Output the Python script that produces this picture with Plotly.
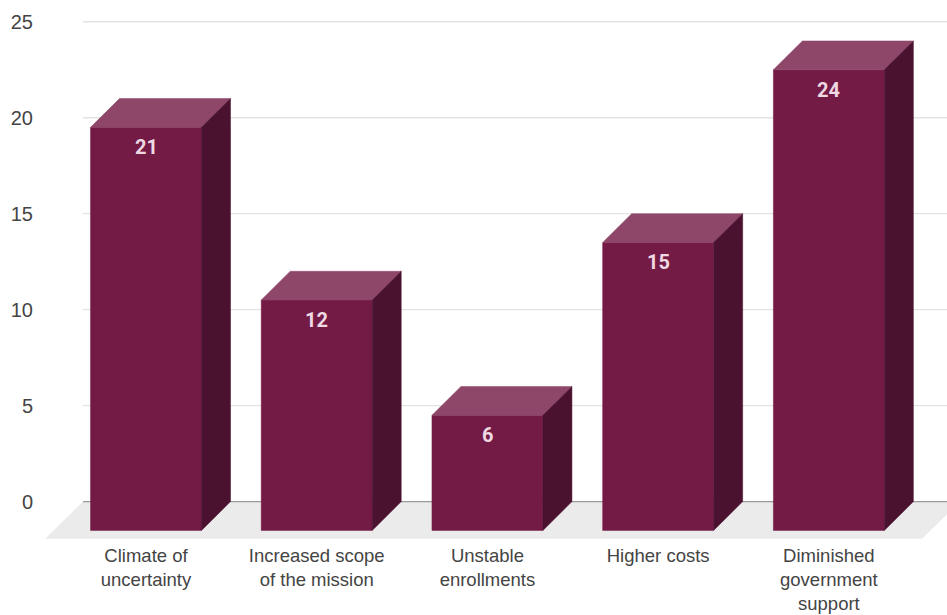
import plotly.graph_objects as go

categories = ["Climate of<br>uncertainty", "Increased scope<br>of the mission", "Unstable<br>enrollments",
              "Higher costs", "Diminished<br>government<br>support"]
values = [21, 12, 6, 15, 24]
y_ticks = [0, 5, 10, 15, 20, 25]

# style constants
BAR_W = 0.65      # front face width (category units)
DX = 0.17         # depth offset in x (category units)
DY = 1.5          # depth offset in y (value units)
FRONT = "#731A45"
TOP = "#8E4669"
SIDE = "#4B1230"
FLOOR = "#EBEBEB"
GRID = "#E3E3E3"
ZERO = "#9A9A9A"

X_RANGE = [-0.621, 4.692]
Y_RANGE = [-2.0, 25.3]

fig = go.Figure()

# floor
n = len(values)
fx0 = -0.369
fdx, fdy = 0.222, 1.93
floor_x = [fx0, fx0 - fdx, (n - 1) + 0.546, (n - 1) + 0.546 + fdx, fx0]
floor_y = [0, -fdy, -fdy, 0, 0]
fig.add_trace(go.Scatter(x=floor_x, y=floor_y, fill="toself", fillcolor=FLOOR,
                         line=dict(width=0), mode="lines", hoverinfo="skip", showlegend=False))

# gridlines
gx, gy = [], []
for t in y_ticks[1:]:
    gx += [fx0, X_RANGE[1], None]
    gy += [t, t, None]
fig.add_trace(go.Scatter(x=gx, y=gy, mode="lines", line=dict(color=GRID, width=1.3),
                         hoverinfo="skip", showlegend=False))
fig.add_trace(go.Scatter(x=[fx0, X_RANGE[1]], y=[0, 0], mode="lines", line=dict(color=ZERO, width=1.2),
                         hoverinfo="skip", showlegend=False))

# 3D bars
for i, v in enumerate(values):
    l, r = i - BAR_W / 2, i + BAR_W / 2
    # front
    fig.add_trace(go.Scatter(x=[l, r, r, l, l], y=[-DY, -DY, v - DY, v - DY, -DY], fill="toself",
                             fillcolor=FRONT, line=dict(color=FRONT, width=0.5), mode="lines",
                             hoverinfo="skip", showlegend=False))
    # top
    fig.add_trace(go.Scatter(x=[l, r, r + DX, l + DX, l], y=[v - DY, v - DY, v, v, v - DY], fill="toself",
                             fillcolor=TOP, line=dict(color=TOP, width=0.5), mode="lines",
                             hoverinfo="skip", showlegend=False))
    # side
    fig.add_trace(go.Scatter(x=[r, r + DX, r + DX, r, r], y=[-DY, 0, v, v - DY, -DY], fill="toself",
                             fillcolor=SIDE, line=dict(color=SIDE, width=0.5), mode="lines",
                             hoverinfo="skip", showlegend=False))
    fig.add_annotation(x=i, y=v - DY, text=f"<b>{v}</b>", showarrow=False, yanchor="top", yshift=-6,
                       font=dict(family="Roboto", size=20, color="#EED8E2"))

fig.update_layout(
    width=947, height=615,
    margin=dict(l=40, r=0, t=16, b=75),
    paper_bgcolor="white", plot_bgcolor="white",
    font=dict(family="Liberation Sans, Arial", size=20, color="#444444"),
    xaxis=dict(range=X_RANGE, tickvals=list(range(n)), ticktext=categories, showgrid=False,
               zeroline=False, showline=False, ticks="", ticklabelstandoff=2, automargin=False,
               tickfont=dict(size=18.5, color="#444444")),
    yaxis=dict(range=Y_RANGE, tickvals=y_ticks, showgrid=False, zeroline=False, showline=False,
               ticks="", ticklabelstandoff=6, automargin=False, tickfont=dict(size=20, color="#444444")),
    showlegend=False,
)

fig.write_html("out.html")
